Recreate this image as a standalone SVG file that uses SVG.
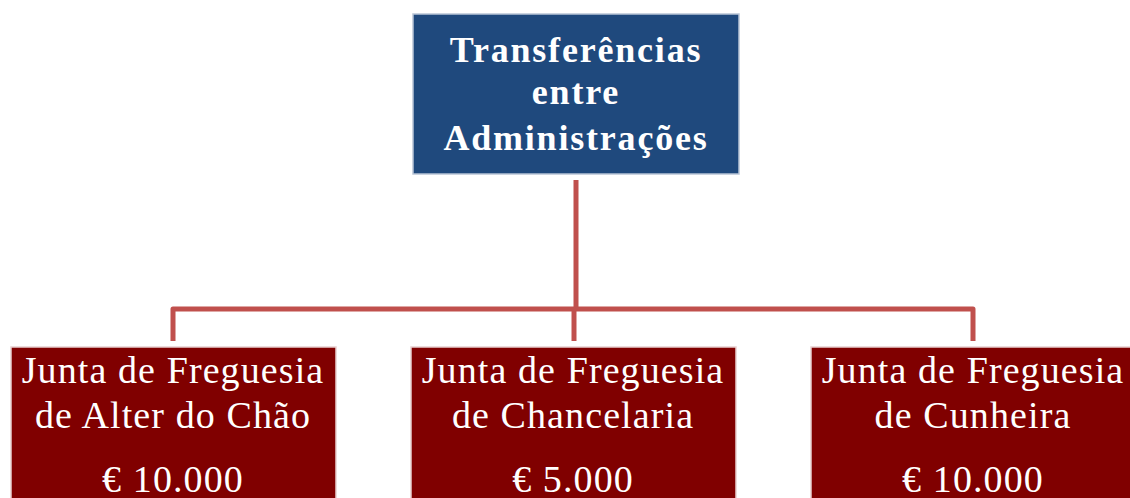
<svg xmlns="http://www.w3.org/2000/svg" width="1130" height="498" viewBox="0 0 1130 498">
<style>
.top{fill:#1F497D;stroke:#B9C5D6;stroke-width:1.5}
.leaf{fill:#800000;stroke:#E8D0D0;stroke-width:1.5}
.tt{font-family:"Liberation Serif",serif;font-weight:bold;font-size:36px;fill:#fff;text-anchor:middle;letter-spacing:1.8px}
.lt{font-family:"Liberation Serif",serif;font-size:38px;fill:#fff;text-anchor:middle;letter-spacing:1.1px}
.con{fill:none;stroke:#C0504D;stroke-width:5;stroke-linejoin:round}
</style>
<rect width="1130" height="498" fill="#fff"/>
<g id="connectors">
<path class="con" d="M576 180V309"/>
<path class="con" d="M173 341V309H973V341"/>
<path class="con" d="M574 309V341"/>
</g>
<g id="n0">
<rect class="top" x="413" y="14" width="326" height="160"/>
<text class="tt" x="576" y="62">Transferências</text>
<text class="tt" x="576" y="104">entre</text>
<text class="tt" x="576" y="150">Administrações</text>
</g>
<g id="n1">
<rect class="leaf" x="11" y="347" width="325" height="160"/>
<text class="lt" x="173" y="383">Junta de Freguesia</text>
<text class="lt" x="173" y="428">de Alter do Chão</text>
<text class="lt" x="173" y="492">€ 10.000</text>
</g>
<g id="n2">
<rect class="leaf" x="411" y="347" width="325" height="160"/>
<text class="lt" x="573" y="383">Junta de Freguesia</text>
<text class="lt" x="573" y="428">de Chancelaria</text>
<text class="lt" x="573" y="492">€ 5.000</text>
</g>
<g id="n3">
<rect class="leaf" x="811" y="347" width="325" height="160"/>
<text class="lt" x="973" y="383">Junta de Freguesia</text>
<text class="lt" x="973" y="428">de Cunheira</text>
<text class="lt" x="973" y="492">€ 10.000</text>
</g>
</svg>
